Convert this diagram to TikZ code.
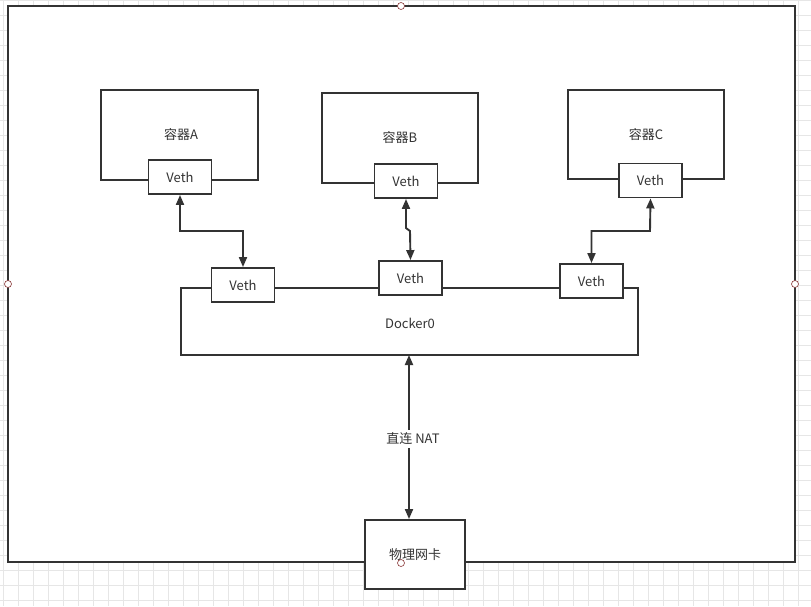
\documentclass[tikz,border=0pt]{standalone}
\usepackage{fontspec}
\setmainfont{Noto Sans CJK SC}
\usetikzlibrary{arrows.meta}
\definecolor{ln}{HTML}{333333}
\definecolor{gridc}{HTML}{E6E6E6}
\definecolor{hdl}{HTML}{8B3A3A}
\tikzset{
  box/.style={draw=ln, line width=1.9pt, fill=white, inner sep=0pt},
  vbox/.style={box, minimum width=63pt, minimum height=34pt, font=\fontsize{13}{15}\selectfont, text=ln},
  lbl/.style={font=\fontsize{13}{15}\selectfont, text=ln, inner sep=1pt},
  link/.style={draw=ln, line width=1.9pt, {Triangle[length=10pt,width=8pt]}-{Triangle[length=10pt,width=8pt]}},
  handle/.style={draw=hdl, fill=white, line width=0.6pt, circle, minimum size=7pt, inner sep=0pt}
}
\begin{document}
\begin{tikzpicture}[x=1pt,y=-1pt]
\useasboundingbox (0,0) rectangle (811,606);
% grid background
\fill[white] (0,0) rectangle (811,606);
\draw[gridc, line width=0.7pt, step=15pt, shift={(3pt,0pt)}] (-3,0) grid (808,606);
% outer host rectangle
\draw[ln, line width=1.9pt, fill=white] (8,6) rectangle (795,562);
% containers
\draw[box] (101,90) rectangle (258,180);
\node[lbl] (ta) at (181,135) {容器A};
\draw[box] (322,93) rectangle (478,183);
\node[lbl] (tb) at (400,138) {容器B};
\draw[box] (568,90) rectangle (724,179);
\node[lbl] (tc) at (646,135) {容器C};
\node[vbox] (va) at (180,177) {Veth};
\node[vbox] (vb) at (406,181) {Veth};
\node[vbox] (vc) at (650.5,180.5) {Veth};
% docker0
\draw[box] (181,288) rectangle (638,355);
\coordinate (dk) at (409,355);
\node[lbl] (td) at (410,323) {Docker0};
\node[vbox] (v1) at (243,285) {Veth};
\node[vbox] (v2) at (410.5,278) {Veth};
\node[vbox] (v3) at (591.5,281) {Veth};
% physical NIC
\node[box, minimum width=100pt, minimum height=69pt] (nic) at (415,554.5) {};
\node[lbl] (tn) at (415,555) {物理网卡};
% links
\draw[link] (va.south) -- (180,231) -| (v1.north);
\draw[link] (vb.south) -- (406,228) -- (410,231) -- (v2.north);
\draw[link] (vc.south) -- (650,231) -| (v3.north);
\draw[link] (dk) -- (nic.north -| dk);
\node[lbl, fill=white, inner sep=3pt] (nat) at (413,439) {直连 NAT};
% selection handles
\node[handle] (h1) at (401,6) {};
\node[handle] (h2) at (8,284) {};
\node[handle] (h3) at (795,284) {};
\node[handle] (h4) at (401,563) {};
\end{tikzpicture}
\end{document}
